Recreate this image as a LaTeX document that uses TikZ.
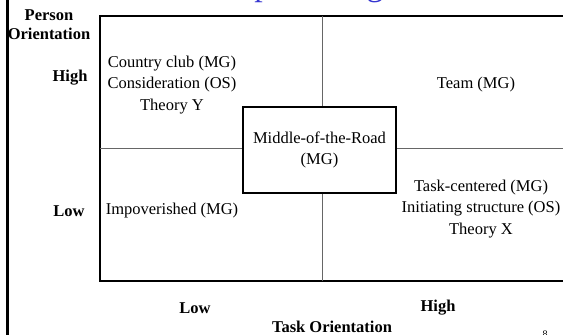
\documentclass[tikz,border=0pt]{standalone}
\usepackage{fontspec}
\setmainfont{Liberation Serif}
\usetikzlibrary{positioning}
\definecolor{titleBlue}{HTML}{3535D0}

\begin{document}
\begin{tikzpicture}[
    x=1pt, y=-1pt,
    cell/.style={font=\fontsize{16.5}{21.5}\selectfont, align=center},
    axislabel/.style={font=\fontsize{16.5}{19}\selectfont\bfseries, align=center},
    gridline/.style={line width=1.5pt},
    divider/.style={line width=0.8pt, black!60},
]
\useasboundingbox (0,0) rectangle (563,335);
\clip (0,0) rectangle (563,335);

% Title (cut off at the top)
\node[font=\fontsize{34}{40}\selectfont, text=titleBlue, anchor=base west,
      inner sep=0pt] (title) at (120,-4.5) {Leadership Paradigms};

% Slide frame on the left
\coordinate (frameTop) at (7.5,-5);
\coordinate (frameBot) at (7.5,340);
\draw[line width=3pt] (frameTop) -- (frameBot);

% Grid
\coordinate (gridNW) at (100,16);
\coordinate (gridSE) at (590,281);
\coordinate (topMid) at (322,16);
\coordinate (botMid) at (322,281);
\coordinate (leftMid) at (100,148);
\coordinate (rightMid) at (590,148);
\draw[gridline] (gridNW) rectangle (gridSE);
\draw[line width=2.5pt] (gridNW) -- (gridNW -| gridSE);

% Middle box
\node[cell, draw, line width=1.2pt, minimum width=153pt, minimum height=86pt]
    (mid) at (319.5,150) {Middle-of-the-Road\\(MG)};

\draw[divider] (topMid) -- (topMid |- mid.north);
\draw[divider] (botMid) -- (botMid |- mid.south);
\draw[divider] (leftMid) -- (leftMid -| mid.west);
\draw[divider] (rightMid) -- (rightMid -| mid.east);

% Quadrant labels
\node[cell] (country) at (172,85) {Country club (MG)\\Consideration (OS)\\Theory Y};
\node[cell] (team) at (476,85) {Team (MG)};
\node[cell] (poor) at (172,211) {Impoverished (MG)};
\node[cell] (task) at (481,209) {Task-centered (MG)\\Initiating structure (OS)\\Theory X};

% Axis labels
\node[axislabel] (person) at (49,25) {Person\\Orientation};
\node[axislabel] (pHigh) at (70,78) {High};
\node[axislabel] (pLow) at (69,211) {Low};
\node[axislabel] (tLow) at (195,308) {Low};
\node[axislabel] (tHigh) at (438,308) {High};
\node[axislabel] (taskAxis) at (332,326.5) {Task Orientation};

% Page number (cut off at the bottom)
\node[font=\fontsize{10}{12}\selectfont, anchor=north, inner sep=0pt]
    (page) at (545,331) {8};
\end{tikzpicture}
\end{document}
